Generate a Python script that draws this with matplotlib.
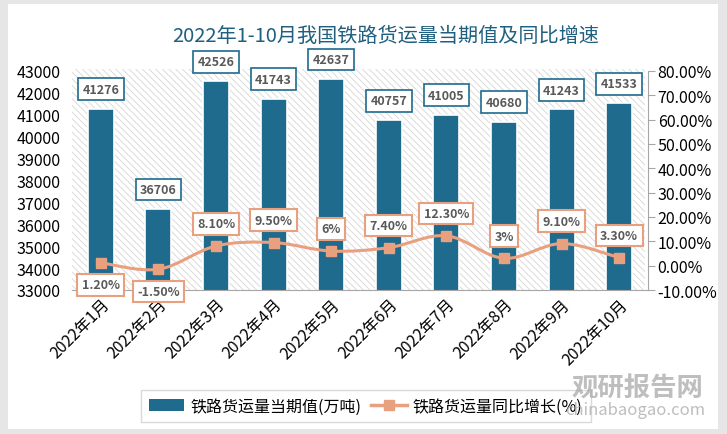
import numpy as np
import matplotlib
matplotlib.use('Agg')
import matplotlib.pyplot as plt
from matplotlib.path import Path
from matplotlib.patches import PathPatch, Rectangle
from matplotlib.lines import Line2D

plt.rcParams['font.family'] = ['Noto Sans CJK SC', 'DejaVu Sans']
plt.rcParams['hatch.linewidth'] = 0.6

# Données
mois = ['2022年1月', '2022年2月', '2022年3月', '2022年4月', '2022年5月',
        '2022年6月', '2022年7月', '2022年8月', '2022年9月', '2022年10月']
volume = [41276, 36706, 42526, 41743, 42637, 40757, 41005, 40680, 41243, 41533]
croissance = [1.2, -1.5, 8.1, 9.5, 6, 7.4, 12.3, 3, 9.1, 3.3]
etiquettes_croissance = ['1.20%', '-1.50%', '8.10%', '9.50%', '6%', '7.40%',
                         '12.30%', '3%', '9.10%', '3.30%']

bleu = '#1f6b8e'
saumon = '#e9a07f'
gris_txt = '#595959'

fig = plt.figure(figsize=(7.27, 4.35), dpi=100, facecolor='#e6e6e6')
# panneau blanc
fig.patches.append(Rectangle((8 / 727, 1 - 430 / 435), 710 / 727, 425 / 435,
                             transform=fig.transFigure, facecolor='white',
                             edgecolor='none', zorder=-10))

ax = fig.add_axes([72 / 727, 1 - 291 / 435, 576 / 727, 219 / 435])
# fond hachuré de la zone de tracé
ax.add_patch(Rectangle((0, 0), 0.995, 1.01, transform=ax.transAxes,
                       facecolor='white', edgecolor='#d6d6d6', lw=0,
                       hatch='\\\\\\\\\\', zorder=0, clip_on=False))
x = np.arange(len(mois))
bars = ax.bar(x, volume, width=0.45, color=bleu, edgecolor='white',
              linewidth=1.2, label='铁路货运量当期值(万吨)', zorder=2)
ax.set_ylim(33000, 43000)
ax.set_yticks(range(33000, 43001, 1000))
ax.set_xlim(-0.5, len(mois) - 0.5)
ax.set_xticks(x)
ax.set_xticklabels(mois, rotation=45, ha='right', rotation_mode='anchor',
                   fontsize=11.5)
ax.tick_params(axis='y', length=0, labelsize=11.5, pad=8)
ax.tick_params(axis='x', length=0, pad=4)
for s in ['left', 'top', 'right']:
    ax.spines[s].set_visible(False)
ax.spines['bottom'].set_color('#a6a6a6')

for xi, v in zip(x, volume):
    ax.annotate(str(v), (xi, v), xytext=(0, 14), textcoords='offset points',
                ha='center', va='center', fontsize=9, fontweight='bold',
                color=gris_txt, zorder=5,
                bbox=dict(boxstyle='square,pad=0.35', fc='white', ec=bleu, lw=1.2))

ax2 = ax.twinx()
ax2.set_ylim(-10, 80)
ax2.set_yticks(range(-10, 81, 10))
ax2.set_yticklabels([f'{t:.2f}%' for t in range(-10, 81, 10)])
ax2.tick_params(axis='y', labelsize=11.5, length=5, color='#a6a6a6', pad=2)
for s in ['left', 'top', 'bottom']:
    ax2.spines[s].set_visible(False)
ax2.spines['right'].set_color('#a6a6a6')

# courbe lissée (Bézier à partir des points)
pts = np.column_stack([x, croissance]).astype(float)
verts = [pts[0]]
codes = [Path.MOVETO]
n = len(pts)
for i in range(n - 1):
    p0 = pts[i - 1] if i > 0 else pts[i]
    p1, p2 = pts[i], pts[i + 1]
    p3 = pts[i + 2] if i + 2 < n else pts[i + 1]
    c1 = p1 + (p2 - p0) / 6
    c2 = p2 - (p3 - p1) / 6
    verts += [c1, c2, p2]
    codes += [Path.CURVE4] * 3
ax2.add_patch(PathPatch(Path(verts, codes), fc='none', ec=saumon, lw=2.2, zorder=3))
ax2.plot(x, croissance, ls='none', marker='s', ms=7.5, color=saumon, zorder=4)

for xi, v, lab in zip(x, croissance, etiquettes_croissance):
    dy = -16 if v < 2 else 16
    ax2.annotate(lab, (xi, v), xytext=(0, dy), textcoords='offset points',
                 ha='center', va='center', fontsize=9, fontweight='bold',
                 color=gris_txt, zorder=6,
                 bbox=dict(boxstyle='square,pad=0.35', fc='white', ec=saumon, lw=1.5))

fig.text(386 / 727, 1 - 36 / 435, '2022年1-10月我国铁路货运量当期值及同比增速',
         ha='center', va='center', fontsize=14.5, color='#1f5f7f')

handles = [plt.Rectangle((0, 0), 1, 1, fc=bleu),
           Line2D([], [], color=saumon, lw=2.5, marker='s', ms=7)]
fig.legend(handles, ['铁路货运量当期值(万吨)', '铁路货运量同比增长(%)'],
           loc='center', bbox_to_anchor=(366 / 727, 1 - 407 / 435), ncol=2,
           fontsize=11.5, frameon=True, fancybox=False, edgecolor='#d0d0d0',
           handlelength=2.2, columnspacing=0.6, handletextpad=0.4,
           borderpad=0.5)

# filigrane
fig.text(637 / 727, 1 - 389 / 435, '观研报告网', ha='center', va='center',
         fontsize=19, fontweight='bold', color='#a8a8a8', alpha=0.75, zorder=20)
fig.text(635 / 727, 1 - 411 / 435, 'chinabaogao.com', ha='center', va='center',
         fontsize=12, color='#a8a8a8', alpha=0.75, zorder=20)

fig.savefig('out.png', dpi=100, facecolor=fig.get_facecolor())
